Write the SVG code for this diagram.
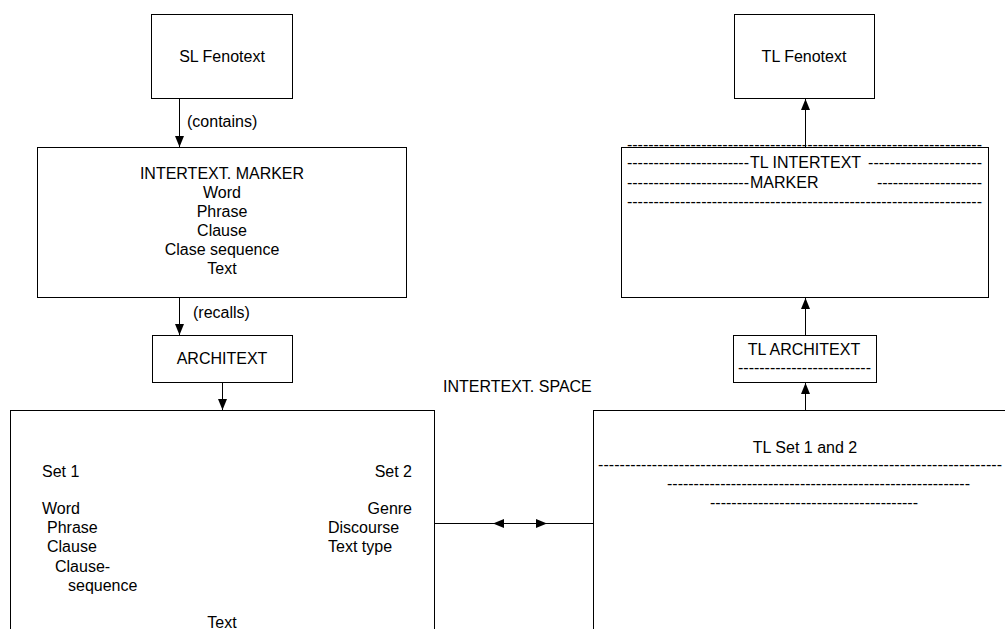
<svg xmlns="http://www.w3.org/2000/svg" width="1005" height="629" viewBox="0 0 1005 629">
<defs>
<style>
.box{fill:#fff;stroke:#000;stroke-width:1}
.t{font-family:"Liberation Sans",Arial,sans-serif;font-size:16px;fill:#000}
.c{text-anchor:middle}
.e{text-anchor:end}
.ln{stroke:#000;stroke-width:1;fill:none}
</style>
<marker id="arr" viewBox="0 0 11 9" refX="11" refY="4.5" markerWidth="11" markerHeight="9" markerUnits="userSpaceOnUse" orient="auto">
<path d="M0,0 L11,4.5 L0,9 z" fill="#000"/>
</marker>
</defs>
<rect width="1005" height="629" fill="#fff"/>

<g id="sl-fenotext">
<rect class="box" x="151.5" y="14.5" width="141" height="84"/>
<text class="t c" x="222" y="62">SL Fenotext</text>
</g>

<g id="intertext-marker">
<rect class="box" x="37.5" y="147.5" width="369" height="150"/>
<text class="t c" x="222" y="179">INTERTEXT. MARKER</text>
<text class="t c" x="222" y="198">Word</text>
<text class="t c" x="222" y="217">Phrase</text>
<text class="t c" x="222" y="236">Clause</text>
<text class="t c" x="222" y="255">Clase sequence</text>
<text class="t c" x="222" y="274">Text</text>
</g>

<g id="architext">
<rect class="box" x="152.5" y="335.5" width="140" height="47"/>
<text class="t c" x="222" y="364">ARCHITEXT</text>
</g>

<g id="sl-sets">
<rect class="box" x="10.5" y="410.5" width="424" height="240"/>
<text class="t" x="42" y="477">Set 1</text>
<text class="t e" x="412" y="477">Set 2</text>
<text class="t" x="42" y="514">Word</text>
<text class="t" x="47" y="533">Phrase</text>
<text class="t" x="47" y="552">Clause</text>
<text class="t" x="55" y="572">Clause-</text>
<text class="t" x="68" y="591">sequence</text>
<text class="t c" x="222" y="628">Text</text>
<text class="t e" x="412" y="514">Genre</text>
<text class="t" x="328" y="533">Discourse</text>
<text class="t" x="328" y="552">Text type</text>
</g>

<g id="space-label">
<text class="t" x="443" y="392">INTERTEXT. SPACE</text>
</g>

<g id="tl-fenotext">
<rect class="box" x="734.5" y="14.5" width="140" height="84"/>
<text class="t c" x="804" y="62">TL Fenotext</text>
</g>

<g id="tl-intertext-marker">
<rect class="box" x="621.5" y="147.5" width="367" height="150"/>
<text class="t" x="627" y="150" textLength="355">-------------------------------------------------------------------</text>
<text class="t" x="627" y="168" textLength="122">-----------------------</text>
<text class="t" x="750" y="168">TL INTERTEXT</text>
<text class="t" x="868" y="168" textLength="114">---------------------</text>
<text class="t" x="627" y="188" textLength="122">-----------------------</text>
<text class="t" x="750" y="188">MARKER</text>
<text class="t" x="877" y="188" textLength="105">--------------------</text>
<text class="t" x="627" y="207" textLength="355">-------------------------------------------------------------------</text>
</g>

<g id="tl-architext">
<rect class="box" x="733.5" y="335.5" width="143" height="47"/>
<text class="t c" x="804" y="355">TL ARCHITEXT</text>
<text class="t" x="738" y="373" textLength="133">-------------------------</text>
</g>

<g id="tl-sets">
<rect class="box" x="593.5" y="410.5" width="430" height="240"/>
<text class="t c" x="805" y="453">TL Set 1 and 2</text>
<text class="t" x="598" y="470" textLength="404">---------------------------------------------------------------------------</text>
<text class="t" x="667" y="489" textLength="303">---------------------------------------------------------</text>
<text class="t" x="710" y="508" textLength="208">---------------------------------------</text>
</g>

<g id="connectors">
<line class="ln" x1="179.5" y1="98" x2="179.5" y2="147" marker-end="url(#arr)"/>
<text class="t" x="187" y="127">(contains)</text>
<line class="ln" x1="179.5" y1="298" x2="179.5" y2="335" marker-end="url(#arr)"/>
<text class="t" x="193" y="318">(recalls)</text>
<line class="ln" x1="222.5" y1="383" x2="222.5" y2="410" marker-end="url(#arr)"/>
<line class="ln" x1="805.5" y1="410" x2="805.5" y2="383" marker-end="url(#arr)"/>
<line class="ln" x1="805.5" y1="335" x2="805.5" y2="298" marker-end="url(#arr)"/>
<line class="ln" x1="805.5" y1="147" x2="805.5" y2="99" marker-end="url(#arr)"/>
<line class="ln" x1="434" y1="523.5" x2="593" y2="523.5"/>
<path d="M493,523.5 L504,519 L504,528 z" fill="#000"/>
<path d="M547,523.5 L536,519 L536,528 z" fill="#000"/>
</g>
</svg>
